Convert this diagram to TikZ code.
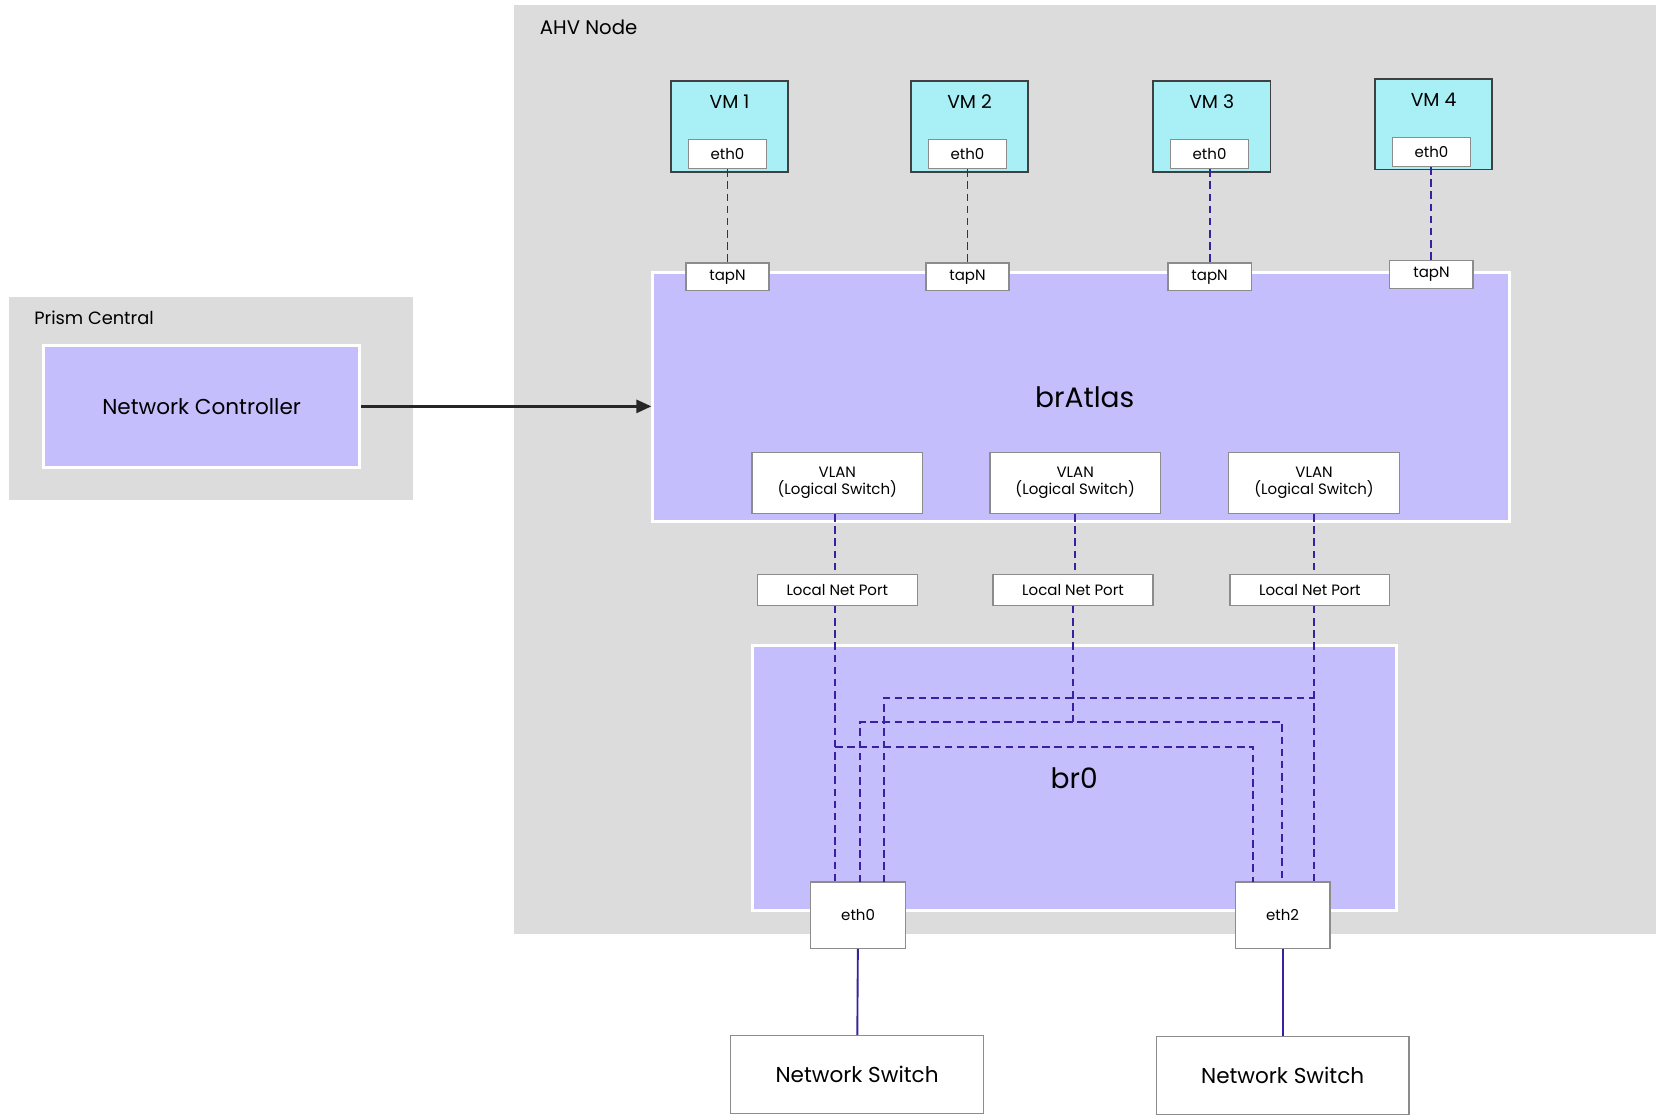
\documentclass[tikz,border=0pt]{standalone}
\usepackage{fontspec}
\setmainfont{Poppins}
\usepackage{tikz}
\usetikzlibrary{arrows.meta}
\definecolor{grayarea}{HTML}{DCDCDC}
\definecolor{lilac}{HTML}{C5BEFD}
\definecolor{vmcyan}{HTML}{A8F0F5}
\definecolor{wire}{HTML}{3A1FA0}
\tikzset{
  area/.style={draw=none,fill=grayarea,inner sep=0pt},
  bridge/.style={draw=white,line width=1.6pt,fill=lilac,inner sep=0pt},
  vm/.style={draw=black!75,line width=0.9pt,fill=vmcyan,minimum width=2.2cm,minimum height=1.7cm,inner sep=0pt},
  port/.style={draw=black!45,fill=white,line width=0.7pt,font=\fontsize{8}{9}\selectfont,inner sep=0pt},
  link/.style={wire,line width=1pt,dash pattern=on 4pt off 2.5pt},
  cable/.style={wire,line width=1pt}
}
\begin{document}
\begin{tikzpicture}[x=0.02cm,y=-0.02cm]
\useasboundingbox (0,0) rectangle (1561,1047);
% areas
\fill [grayarea] (482,5) rectangle (1553,876);
\node [anchor=west,font=\fontsize{10.5}{12}\selectfont] at (500,26) {AHV Node};
\fill [grayarea] (8,278) rectangle (387,469);
\node [anchor=west,font=\fontsize{9.5}{11}\selectfont] at (26,298) {Prism Central};
\node (nc) [bridge,minimum width=5.92cm,minimum height=2.3cm,font=\fontsize{11.5}{13}\selectfont] at (189,381) {Network Controller};
% bridges
\node (bratlas) [bridge,minimum width=16.06cm,minimum height=4.68cm] at (1013.5,372) {};
\node [font=\fontsize{15}{17}\selectfont] at (1017,372) {brAtlas};
\node (br0) [bridge,minimum width=12.08cm,minimum height=4.98cm] at (1007,729.5) {};
\node [font=\fontsize{15}{17}\selectfont] at (1007,730) {br0};
% VMs
\foreach \n/\x/\y in {1/684/118.5,2/909/118.5,3/1136/118.5,4/1344/116.5} {
  \node (vm\n) [vm] at (\x,\y) {};
  \node [font=\fontsize{10}{12}\selectfont] at (\x,\y-23) {VM \n};
  \node (eth\n) [port,minimum width=1.46cm,minimum height=0.54cm] at (\x-2,\y+26) {eth0};
  \node (tap\n) [port,minimum width=1.56cm,minimum height=0.52cm] at (\x-2,\y+141) {tapN};
  \draw [link] (eth\n) -- (tap\n);
}
% VLANs and local ports
\foreach \n/\x/\xl in {1/785/785,2/1008/1006,3/1232/1228} {
  \node (vlan\n) [port,minimum width=3.2cm,minimum height=1.14cm,align=center] at (\x,453) {VLAN\\(Logical Switch)};
  \node (lnp\n) [port,minimum width=3cm,minimum height=0.58cm] at (\xl,553) {Local Net Port};
}
\draw [link] (783,482) -- (783,539);
\draw [link] (1008,482) -- (1008,539);
\draw [link] (1232,482) -- (1232,539);
% uplinks
\node (up0) [port,minimum width=1.78cm,minimum height=1.24cm] at (804.5,858) {eth0};
\node (up2) [port,minimum width=1.78cm,minimum height=1.24cm] at (1202.5,858) {eth2};
\draw [link] (783,568) -- (783,827);
\draw [link] (783,700) -- (1175,700) -- (1175,827);
\draw [link] (1006,568) -- (1006,677);
\draw [link] (806,827) -- (806,677) -- (1202,677) -- (1202,827);
\draw [link] (1232,568) -- (1232,827);
\draw [link] (829,827) -- (829,654) -- (1232,654);
% switches
\node (sw0) [port,minimum width=4.74cm,minimum height=1.46cm,font=\fontsize{11.5}{13}\selectfont] at (803.5,1007.5) {Network Switch};
\node (sw2) [port,minimum width=4.74cm,minimum height=1.46cm,font=\fontsize{11.5}{13}\selectfont] at (1202.5,1008.5) {Network Switch};
\draw [cable] (up0) -- (sw0);
\draw [cable] (up2) -- (sw2);
% control
\draw [black!85,line width=1.3pt,-{Triangle[length=8pt,width=7pt]}] (nc.east) -- (bratlas.west |- nc.east);
\end{tikzpicture}
\end{document}
